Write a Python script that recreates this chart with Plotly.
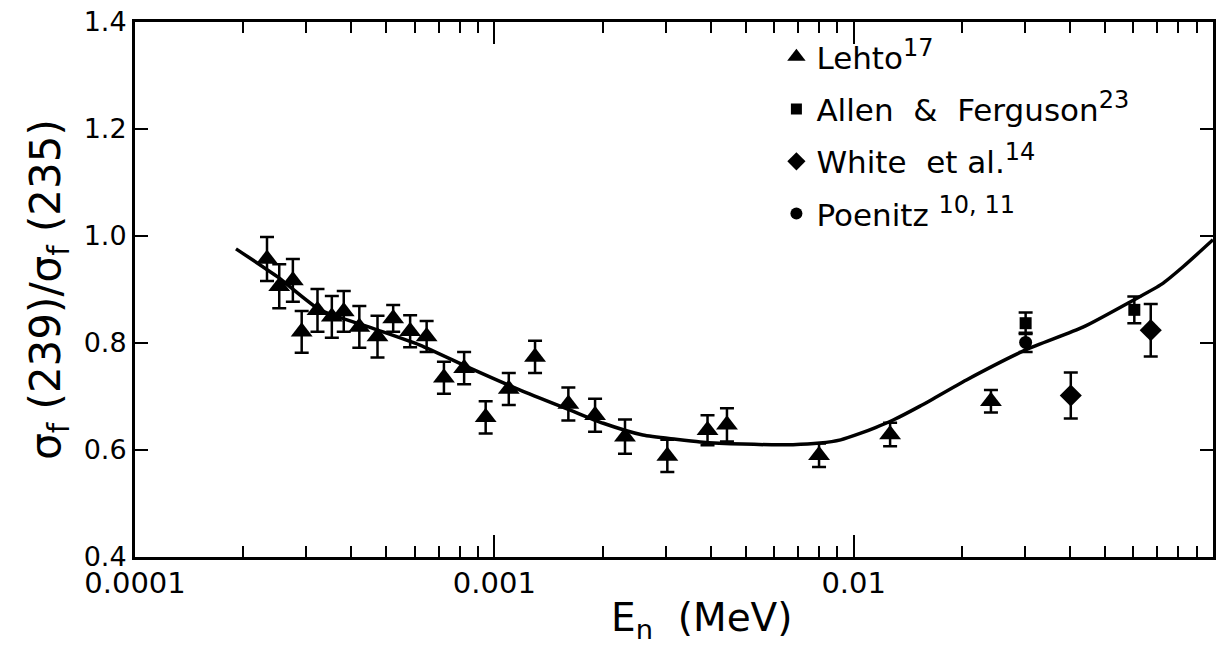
import plotly.graph_objects as go

# ---- data ----
lehto_E = [2.33e-4, 2.52e-4, 2.75e-4, 2.91e-4, 3.22e-4, 3.53e-4, 3.81e-4, 4.21e-4, 4.73e-4,
           5.23e-4, 5.83e-4, 6.48e-4, 7.24e-4, 8.24e-4, 9.46e-4, 1.097e-3, 1.298e-3, 1.607e-3,
           1.907e-3, 2.31e-3, 3.03e-3, 3.92e-3, 4.44e-3, 8.01e-3, 1.263e-2, 2.41e-2]
lehto_R = [0.957, 0.906, 0.917, 0.821, 0.861, 0.849, 0.859, 0.830, 0.812,
           0.846, 0.822, 0.812, 0.735, 0.753, 0.661, 0.714, 0.774, 0.686,
           0.665, 0.625, 0.589, 0.637, 0.647, 0.590, 0.629, 0.691]
lehto_err = [0.041, 0.041, 0.040, 0.039, 0.040, 0.039, 0.038, 0.039, 0.039,
             0.025, 0.030, 0.029, 0.030, 0.030, 0.030, 0.030, 0.030, 0.031,
             0.031, 0.032, 0.030, 0.028, 0.031, 0.022, 0.022, 0.021]

allen_E = [3.01e-2, 6.04e-2]
allen_R = [0.837, 0.862]
allen_err = [0.020, 0.025]

white_E = [4.02e-2, 6.71e-2]
white_R = [0.702, 0.824]
white_err = [0.043, 0.049]

poen_E = [3.01e-2]
poen_R = [0.801]
poen_err = [0.018]

curve_E = [1.91e-4, 2.5e-4, 3.27e-4, 4.61e-4, 6.21e-4, 8.56e-4, 1.18e-3, 1.62e-3, 2.01e-3,
           2.59e-3, 3.2e-3, 3.74e-3, 4.92e-3, 6.78e-3, 8.06e-3, 9.2e-3, 1.042e-2, 1.15e-2,
           1.288e-2, 1.53e-2, 2.06e-2, 3.01e-2, 4.36e-2, 6.00e-2, 7.2e-2, 8.27e-2, 0.1]
curve_R = [0.976, 0.923, 0.862, 0.827, 0.796, 0.753, 0.712, 0.675, 0.650,
           0.628, 0.620, 0.615, 0.611, 0.610, 0.613, 0.619, 0.631, 0.642,
           0.656, 0.682, 0.731, 0.787, 0.830, 0.880, 0.910, 0.943, 0.993]

SUP = "<sup><span style='font-size:24px'>{}</span></sup>"
legend_names = ["Lehto" + SUP.format("17"),
                "Allen  &amp;  Ferguson" + SUP.format("23"),
                "White  et al." + SUP.format("14"),
                "Poenitz " + SUP.format("10, 11")]

x_tickvals = [1e-4, 1e-3, 1e-2, 1e-1]
x_ticktext = ["0.0001", "0.001", "0.01", "0.1"]
x_minor = [m * d for d in (1e-4, 1e-3, 1e-2) for m in range(2, 10)]
y_tickvals = [0.4, 0.6, 0.8, 1.0, 1.2, 1.4]
y_ticktext = ["0.4", "0.6", "0.8", "1.0", "1.2", "1.4"]

FONT = "DejaVu Sans"
BLACK = "#000000"

fig = go.Figure()

fig.add_trace(go.Scatter(x=curve_E, y=curve_R, mode="lines", line=dict(color=BLACK, width=3.5),
                         line_shape="spline", line_smoothing=0.6,
                         showlegend=False, hoverinfo="skip"))

def err(vals):
    return dict(type="data", array=vals, visible=True, color=BLACK, thickness=2.5, width=7)

series = [
    (lehto_E, lehto_R, lehto_err, "triangle-up", 19),
    (allen_E, allen_R, allen_err, "square", 12),
    (white_E, white_R, white_err, "diamond", 17),
    (poen_E, poen_R, poen_err, "circle", 13),
]
for (xs, ys, es, sym, sz) in series:
    fig.add_trace(go.Scatter(x=xs, y=ys, mode="markers", error_y=err(es),
                             marker=dict(symbol=sym, size=sz, color=BLACK),
                             showlegend=False))

legend_sizes = [16, 11, 14, 12]
for i, ((xs, ys, es, sym, sz), name) in enumerate(zip(series, legend_names)):
    fig.add_trace(go.Scatter(x=[None], y=[None], mode="markers", name=name,
                             legendgroup=f"g{i}",
                             marker=dict(symbol=sym, size=legend_sizes[i], color=BLACK)))

fig.update_layout(
    width=1221, height=650,
    margin=dict(l=135, r=8, t=22, b=93, autoexpand=False),
    paper_bgcolor="white", plot_bgcolor="white",
    font=dict(family=FONT, color=BLACK, size=26),
    legend=dict(x=0.595, y=0.985, xanchor="left", yanchor="top",
                font=dict(size=31, family=FONT), bgcolor="rgba(0,0,0,0)",
                tracegroupgap=9, itemwidth=30),
    xaxis=dict(type="log", range=[-4, -1], tickmode="array", tickvals=x_tickvals,
               ticktext=x_ticktext, ticks="inside", ticklen=22, tickwidth=2, tickcolor=BLACK,
               showline=True, linewidth=3, linecolor=BLACK, mirror="ticks", showgrid=False,
               zeroline=False, tickfont=dict(size=29, family=FONT), automargin=False,
               ticklabelstandoff=-2,
               minor=dict(tickmode="array", tickvals=x_minor, ticks="inside", ticklen=11,
                          tickwidth=2, tickcolor=BLACK, showgrid=False)),
    yaxis=dict(range=[0.4, 1.4], tickmode="array", tickvals=y_tickvals, ticktext=y_ticktext,
               ticks="inside", ticklen=13, tickwidth=2, tickcolor=BLACK,
               showline=True, linewidth=3, linecolor=BLACK, mirror="ticks", showgrid=False,
               zeroline=False, tickfont=dict(size=27, family=FONT), automargin=False,
               title=dict(text="σ<sub>f</sub> (239)/σ<sub>f</sub> (235)",
                          font=dict(size=42, family=FONT), standoff=10)),
    annotations=[dict(text="E<sub>n</sub>  (MeV)", xref="paper", yref="paper",
                      x=0.526, y=-0.118, xanchor="center", yanchor="middle",
                      showarrow=False, font=dict(size=39, family=FONT, color=BLACK))],
)

fig.write_html("out.html", config={"displayModeBar": False},
               post_script="document.body.style.margin='0';")
